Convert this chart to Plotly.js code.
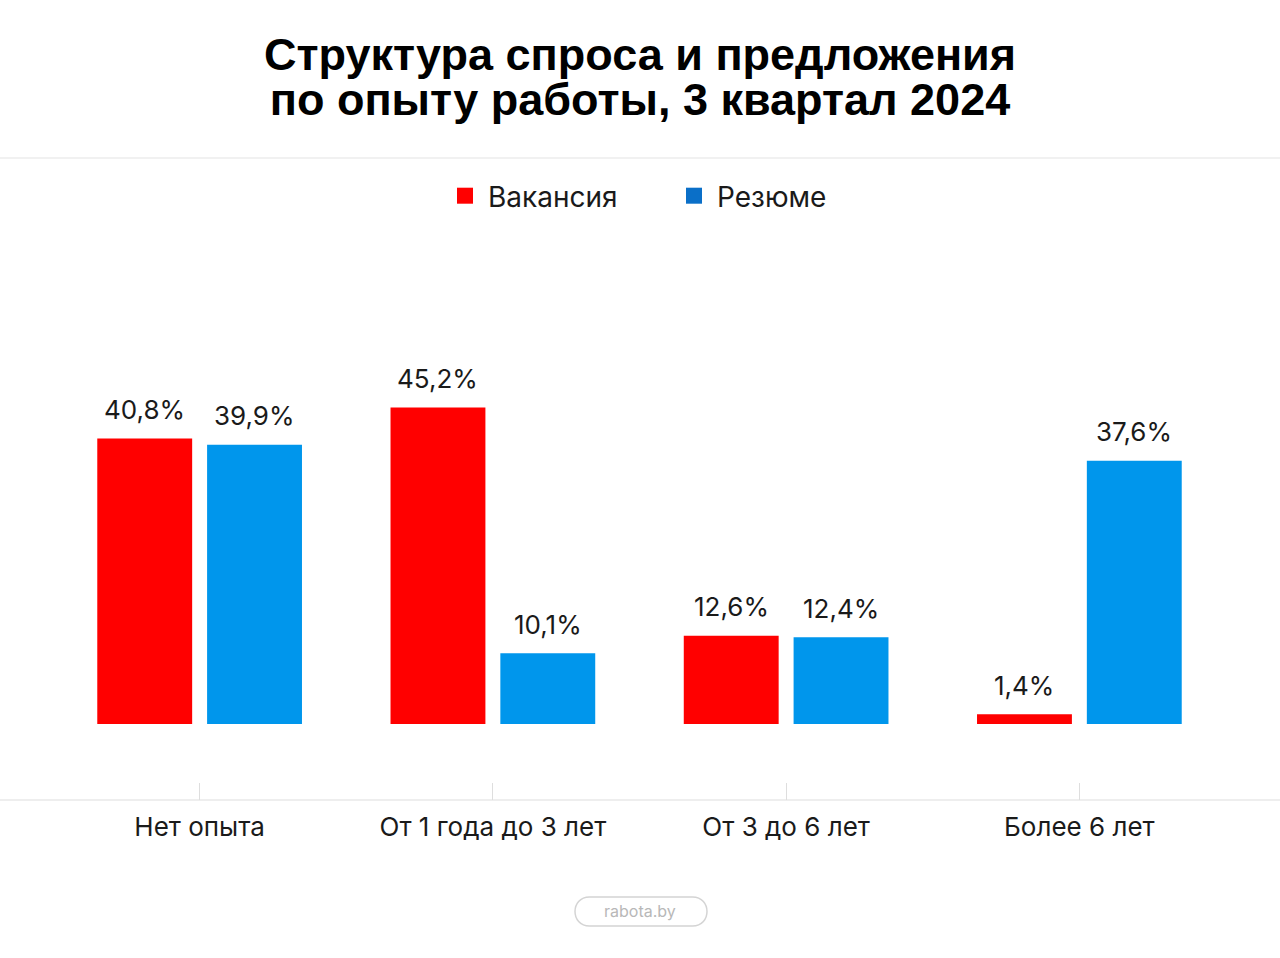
<!DOCTYPE html>
<html>
<head>
<meta charset="utf-8">
<script src="https://cdn.plot.ly/plotly-3.0.1.min.js"></script>
<style>html,body{margin:0;padding:0;background:#fff;}#chart{width:1280px;height:958px;}</style>
</head>
<body>
<div id="chart"></div>
<script>
// ---- data ----
const categories = ['Нет опыта', 'От 1 года до 3 лет', 'От 3 до 6 лет', 'Более 6 лет'];
const vacancies = [40.8, 45.2, 12.6, 1.4];
const resumes = [39.9, 10.1, 12.4, 37.6];
const seriesNames = ['Вакансия', 'Резюме'];
const titleLines = ['Структура спроса и предложения', 'по опыту работы, 3 квартал 2024'];
const footerText = 'rabota.by';

// ---- layout geometry ----
const W = 1280, H = 958;
const mL = 53, mR = 54, mT = 240, mB = 158;
const plotW = W - mL - mR, plotH = H - mT - mB;
const px2x = p => (p - mL) / plotW;
const py2y = p => (H - mB - p) / plotH;
const bargap = 0.251;
const off = (1 - bargap) / 4;

const RED = '#FF0000', BLUE = '#0096EC', BLUE_LEG = '#0A6FC8';
const fmt = v => v.toFixed(1).replace('.', ',') + '%';

const traces = [
  {type: 'bar', x: categories, y: vacancies, name: seriesNames[0], marker: {color: RED, line: {width: 0}}, showlegend: false, hoverinfo: 'skip'},
  {type: 'bar', x: categories, y: resumes, name: seriesNames[1], marker: {color: BLUE, line: {width: 0}}, showlegend: false, hoverinfo: 'skip'},
  {type: 'scatter', mode: 'markers', x: [null], y: [null], name: seriesNames[0], marker: {symbol: 'square', size: 18, color: RED}},
  {type: 'scatter', mode: 'markers', x: [null], y: [null], name: seriesNames[1], marker: {symbol: 'square', size: 18, color: BLUE_LEG}}
];

const annotations = [];
[vacancies, resumes].forEach((arr, s) => {
  arr.forEach((v, i) => {
    annotations.push({
      x: i + (s === 0 ? -off : off), y: v, xref: 'x', yref: 'y',
      text: fmt(v), showarrow: false, yanchor: 'middle', yshift: 29,
      font: {family: 'Inter, sans-serif', size: 26, color: '#1a1a1a'}
    });
  });
});
annotations.push({
  x: px2x(640), y: py2y(911), xref: 'paper', yref: 'paper', text: footerText,
  showarrow: false, xanchor: 'center', yanchor: 'middle',
  font: {family: 'Inter, sans-serif', size: 16, color: '#b8b8b8'}
});

// pill around footer
const pl = 575, pr = 707, pt = 897, pb = 926, r = (pb - pt) / 2, k = 4 / 3 * r;
const P = (x, y) => px2x(x) + ',' + py2y(y);
const pillPath = 'M' + P(pl + r, pt) + ' L' + P(pr - r, pt) +
  ' C' + P(pr - r + k, pt) + ' ' + P(pr - r + k, pb) + ' ' + P(pr - r, pb) +
  ' L' + P(pl + r, pb) +
  ' C' + P(pl + r - k, pb) + ' ' + P(pl + r - k, pt) + ' ' + P(pl + r, pt) + ' Z';

const shapes = [
  {type: 'line', xref: 'paper', yref: 'paper', x0: px2x(0), x1: px2x(W), y0: py2y(158), y1: py2y(158), line: {color: '#e3e3e3', width: 1.2}},
  {type: 'line', xref: 'paper', yref: 'paper', x0: px2x(0), x1: px2x(W), y0: 0, y1: 0, line: {color: '#dedede', width: 1.2}},
  {type: 'path', xref: 'paper', yref: 'paper', path: pillPath, line: {color: '#d4d4d4', width: 1.5}}
];

const titleHtml = titleLines.map(t => '<span style="font-size:45px">' + t + '</span>').join('<br>');

const layout = {
  width: W, height: H,
  margin: {l: mL, r: mR, t: mT, b: mB, pad: 0},
  paper_bgcolor: '#ffffff', plot_bgcolor: '#ffffff',
  separators: ', ',
  title: {
    text: titleHtml,
    x: 0.5, xanchor: 'center', xref: 'container',
    y: 1 - 70 / H, yref: 'container', yanchor: 'middle',
    font: {family: 'Liberation Sans, Arial, sans-serif', size: 34.6, color: '#000000', weight: 'bold'}
  },
  barmode: 'group', bargap: bargap, bargroupgap: 0.136,
  showlegend: true,
  legend: {
    orientation: 'h', x: px2x(442), xanchor: 'left', xref: 'paper',
    y: py2y(196), yanchor: 'middle',
    font: {family: 'Inter, sans-serif', size: 28, color: '#1a1a1a'},
    entrywidth: 178, itemwidth: 36, itemsizing: 'trace', bgcolor: 'rgba(0,0,0,0)'
  },
  xaxis: {
    type: 'category', showgrid: false, zeroline: false, showline: false,
    ticks: 'inside', ticklen: 17, tickwidth: 1.2, tickcolor: '#dedede',
    tickfont: {family: 'Inter, sans-serif', size: 26, color: '#1a1a1a'},
    ticklabelstandoff: 9, fixedrange: true
  },
  yaxis: {
    range: [-76 / 7.0, (800 - mT - 76) / 7.0],
    showgrid: false, zeroline: false, showline: false, showticklabels: false, ticks: '',
    fixedrange: true
  },
  annotations: annotations,
  shapes: shapes
};

Plotly.newPlot('chart', traces, layout, {displayModeBar: false, staticPlot: true});
</script>
</body>
</html>
